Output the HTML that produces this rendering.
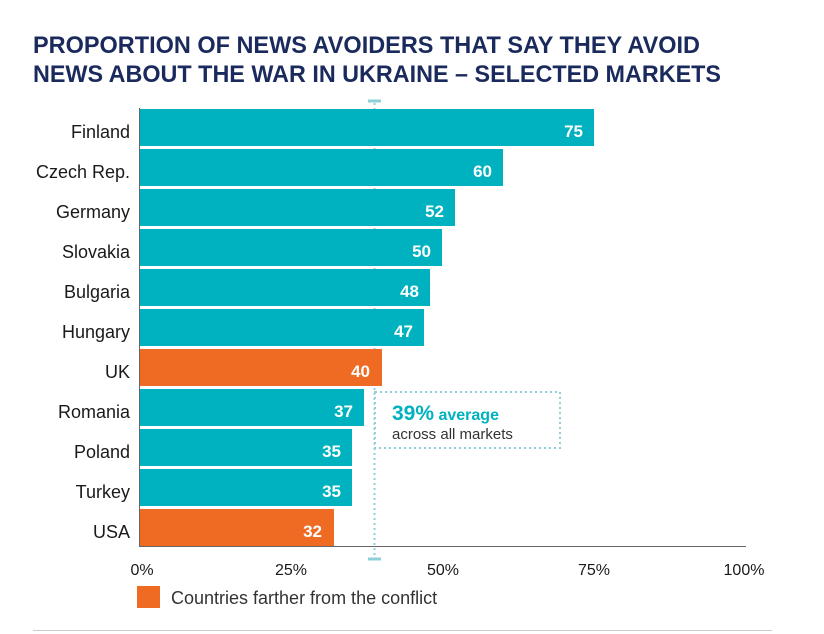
<!DOCTYPE html>
<html><head><meta charset="utf-8"><style>
html,body{margin:0;padding:0;background:#fff;}
svg{display:block;font-family:"Liberation Sans",sans-serif;}
</style></head><body>
<svg width="824" height="634" viewBox="0 0 824 634" xmlns="http://www.w3.org/2000/svg">
<text x="33" y="53" font-size="24" font-weight="bold" fill="#1b2a5c" textLength="667" lengthAdjust="spacingAndGlyphs">PROPORTION OF NEWS AVOIDERS THAT SAY THEY AVOID</text>
<text x="33" y="82" font-size="24" font-weight="bold" fill="#1b2a5c" textLength="688" lengthAdjust="spacingAndGlyphs">NEWS ABOUT THE WAR IN UKRAINE – SELECTED MARKETS</text>
<line x1="374.5" y1="103" x2="374.5" y2="557" stroke="#8fd0d8" stroke-width="2" stroke-dasharray="2,3"/>
<line x1="368" y1="101" x2="381" y2="101" stroke="#8fd0d8" stroke-width="3"/>
<line x1="368" y1="559" x2="381" y2="559" stroke="#8fd0d8" stroke-width="3"/>
<line x1="139.5" y1="108" x2="139.5" y2="547" stroke="#666" stroke-width="1"/>
<g font-size="18" fill="#1a1a1a" text-anchor="end">
<text x="130" y="138">Finland</text>
<text x="130" y="178">Czech Rep.</text>
<text x="130" y="218">Germany</text>
<text x="130" y="258">Slovakia</text>
<text x="130" y="298">Bulgaria</text>
<text x="130" y="338">Hungary</text>
<text x="130" y="378">UK</text>
<text x="130" y="418">Romania</text>
<text x="130" y="458">Poland</text>
<text x="130" y="498">Turkey</text>
<text x="130" y="538">USA</text>
</g>
<g>
<rect x="140" y="109" width="454" height="37" fill="#00b2bf"/>
<rect x="140" y="149" width="363" height="37" fill="#00b2bf"/>
<rect x="140" y="189" width="315" height="37" fill="#00b2bf"/>
<rect x="140" y="229" width="302" height="37" fill="#00b2bf"/>
<rect x="140" y="269" width="290" height="37" fill="#00b2bf"/>
<rect x="140" y="309" width="284" height="37" fill="#00b2bf"/>
<rect x="140" y="349" width="242" height="37" fill="#ef6a22"/>
<rect x="140" y="389" width="224" height="37" fill="#00b2bf"/>
<rect x="140" y="429" width="212" height="37" fill="#00b2bf"/>
<rect x="140" y="469" width="212" height="37" fill="#00b2bf"/>
<rect x="140" y="509" width="194" height="37" fill="#ef6a22"/>
</g>
<g font-size="17" font-weight="bold" fill="#fff" text-anchor="end">
<text x="583" y="137">75</text>
<text x="492" y="177">60</text>
<text x="444" y="217">52</text>
<text x="431" y="257">50</text>
<text x="419" y="297">48</text>
<text x="413" y="337">47</text>
<text x="370" y="377">40</text>
<text x="353" y="417">37</text>
<text x="341" y="457">35</text>
<text x="341" y="497">35</text>
<text x="322" y="537">32</text>
</g>
<rect x="375" y="392" width="185" height="56" fill="#fff" stroke="#8fd0d8" stroke-width="2" stroke-dasharray="2,3"/>
<text x="392" y="420" font-size="21" font-weight="bold" fill="#00b2bf">39%<tspan font-size="16"> average</tspan></text>
<text x="392" y="439" font-size="15" fill="#333">across all markets</text>
<line x1="139" y1="546.5" x2="746" y2="546.5" stroke="#666" stroke-width="1"/>
<g font-size="16" fill="#1a1a1a" text-anchor="middle">
<text x="142" y="575">0%</text>
<text x="291" y="575">25%</text>
<text x="443" y="575">50%</text>
<text x="594" y="575">75%</text>
<text x="744" y="575">100%</text>
</g>
<rect x="137" y="586" width="23" height="22" fill="#ef6a22"/>
<text x="171" y="604" font-size="18" fill="#333">Countries farther from the conflict</text>
<line x1="33" y1="630.5" x2="772" y2="630.5" stroke="#ccc" stroke-width="1"/>
</svg>
</body></html>
